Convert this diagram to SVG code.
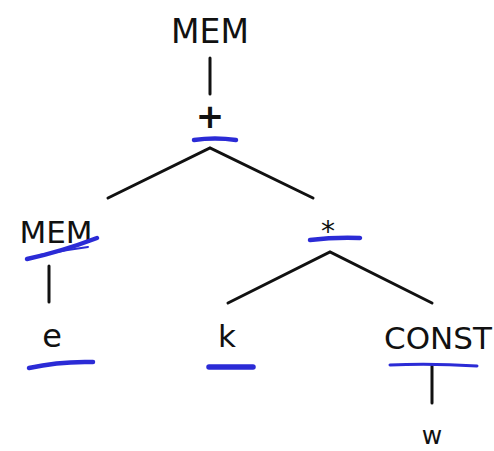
<svg xmlns="http://www.w3.org/2000/svg" width="494" height="451" viewBox="0 0 494 451">
<style>
text{font-family:"DejaVu Sans","Liberation Sans",sans-serif;fill:#111;text-anchor:middle}
.edge{stroke:#111;stroke-width:3;fill:none;stroke-linecap:round}
.mark{stroke:#2b2bd6;stroke-width:4.5;fill:none;stroke-linecap:round}
</style>
<rect width="494" height="451" fill="#fff"/>
<g id="connectors">
<line class="edge" x1="210" y1="58" x2="210" y2="94"/>
<path class="edge" d="M108,198 L210,148 L313,198"/>
<line class="edge" x1="49" y1="266" x2="49" y2="302"/>
<path class="edge" d="M228,303 L330,252 L432,303"/>
<line class="edge" x1="432" y1="366" x2="432" y2="403"/>
</g>
<g id="n-mem-top"><text x="210" y="43" font-size="33">MEM</text></g>
<g id="n-plus"><text x="210" y="128" font-size="34" font-weight="bold">+</text><path class="mark" d="M194,140 Q215,137 236,140"/></g>
<g id="n-mem-left"><text x="56" y="243" font-size="31">MEM</text><path class="mark" d="M27,259 Q60,252 97,238"/><path class="mark" style="stroke-width:2" d="M40,255 Q65,250 88,247"/></g>
<g id="n-e"><text x="52" y="347" font-size="32">e</text><path class="mark" d="M29,368 Q60,361 93,362"/></g>
<g id="n-star"><text x="328" y="241" font-size="28">*</text><path class="mark" d="M310,240 Q335,237 360,238"/></g>
<g id="n-k"><text x="227" y="347" font-size="31">k</text><path class="mark" style="stroke-width:5.5" d="M209,367 L253,367"/></g>
<g id="n-const"><text x="438" y="349" font-size="31">CONST</text><path class="mark" style="stroke-width:3" d="M390,365 Q430,363 477,366"/></g>
<g id="n-w"><text x="432" y="444" font-size="25">w</text></g>
</svg>
